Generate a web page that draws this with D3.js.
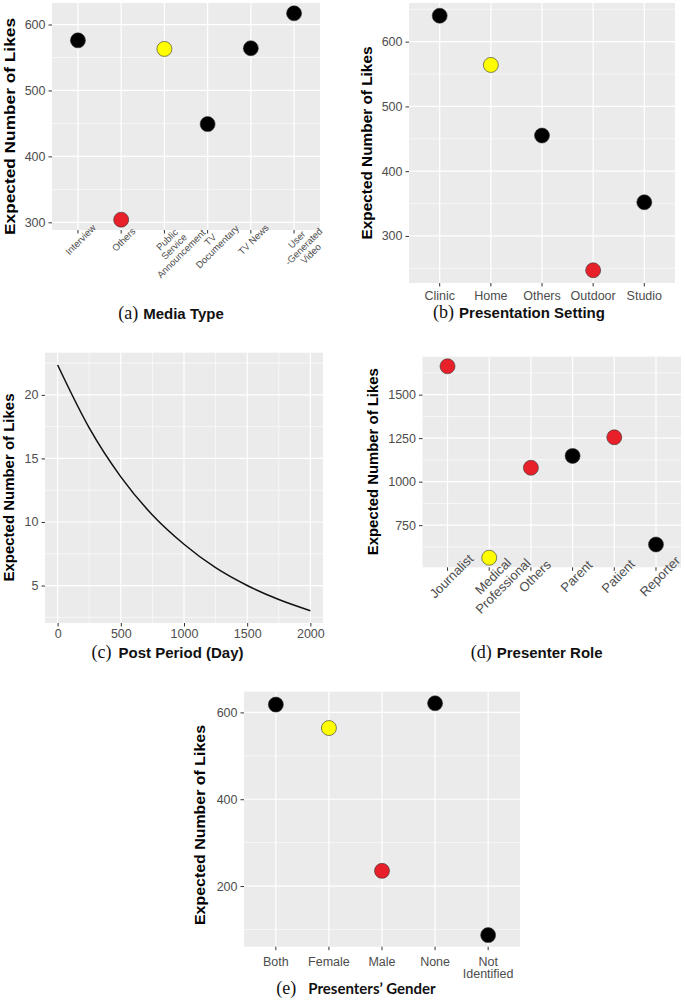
<!DOCTYPE html>
<html><head><meta charset="utf-8">
<script src="https://cdn.jsdelivr.net/npm/d3@7"></script>
<style>
html,body{margin:0;padding:0;background:#fff;}
svg{display:block;}
</style></head>
<body>
<svg id="chart" width="685" height="1003"></svg>
<script>
// ---------- DATA ----------
// status: "ref" = reference category, "sig" = significant, "ns" = not significant
const mediaTypes = ["Interview", "Others", "Public\nService\nAnnouncement", "TV\nDocumentary", "TV News", "User\n-Generated\nVideo"];
const mediaLikes = [576, 304, 563, 449, 564, 617];
const mediaStatus = ["ns", "sig", "ref", "ns", "ns", "ns"];
const mediaTicks = [300, 400, 500, 600];

const settingTypes = ["Clinic", "Home", "Others", "Outdoor", "Studio"];
const settingLikes = [640, 564, 455, 247, 352];
const settingStatus = ["ns", "ref", "ns", "sig", "ns"];
const settingTicks = [300, 400, 500, 600];

const postDays = [0, 250, 500, 750, 1000, 1250, 1500, 1750, 2000];
const postLikes = [22.35, 17.4, 13.55, 10.55, 8.25, 6.4, 5.0, 3.9, 3.02];
const postXTicks = [0, 500, 1000, 1500, 2000];
const postYTicks = [5, 10, 15, 20];

const roleTypes = ["Journalist", "Medical\nProfessional", "Others", "Parent", "Patient", "Reporter"];
const roleLikes = [1663, 563, 1080, 1148, 1255, 639];
const roleStatus = ["sig", "ref", "sig", "ns", "sig", "ns"];
const roleTicks = [750, 1000, 1250, 1500];

const genderTypes = ["Both", "Female", "Male", "None", "Not\nIdentified"];
const genderLikes = [618, 564, 235, 621, 87];
const genderStatus = ["ns", "ref", "sig", "ns", "ns"];
const genderTicks = [200, 400, 600];

const yTitle = "Expected Number of Likes";

// ---------- STYLE ----------
const statusColor = {ns: "#000000", sig: "#e8202a", ref: "#ffff00"};
const PANEL_BG = "#ebebeb";
const TICK_COL = "#4d4d4d";
const SANS = "'Liberation Sans', Arial, sans-serif";
const fmt = d3.format("d");

const svg = d3.select("#chart");

function expand(vals) {
  const lo = d3.min(vals), hi = d3.max(vals), r = hi - lo;
  return [lo - 0.05 * r, hi + 0.05 * r];
}

function minorBetween(ticks, domain) {
  const step = ticks[1] - ticks[0];
  const out = [];
  for (let v = ticks[0] - step / 2; v <= domain[1]; v += step) {
    if (v >= domain[0] && v <= domain[1]) out.push(v);
  }
  return out;
}

function drawYTitle(cx, cy, len) {
  svg.append("text")
    .attr("transform", `translate(${cx},${cy}) rotate(-90)`)
    .attr("text-anchor", "middle")
    .attr("dominant-baseline", "central")
    .attr("font-family", SANS).attr("font-weight", "bold").attr("font-size", 14)
    .attr("textLength", len).attr("lengthAdjust", "spacingAndGlyphs")
    .attr("fill", "#000")
    .text(yTitle);
}

function drawCaption(cx, baseline, letter, label, labelFont, gap) {
  const t = svg.append("text").attr("x", cx).attr("y", baseline).attr("text-anchor", "middle");
  t.append("tspan").attr("font-family", "'Liberation Serif', 'Times New Roman', serif")
    .attr("font-size", 18).attr("fill", "#111").text(letter);
  t.append("tspan").attr("font-family", labelFont || SANS).attr("font-weight", "bold")
    .attr("font-size", 15).attr("fill", "#111").attr("dx", gap || 5).text(label);
}

function yAxis(g, y, ticks, x0) {
  const ax = d3.axisLeft(y).tickValues(ticks).tickFormat(fmt).tickSize(3.5).tickPadding(3);
  const a = g.append("g").attr("transform", `translate(${x0},0)`).call(ax);
  a.select(".domain").remove();
  a.selectAll(".tick line").attr("stroke", "#333").attr("stroke-width", 1);
  a.selectAll(".tick text").attr("fill", TICK_COL).attr("font-size", 12.5).attr("font-family", SANS);
}

function catPanel(o) {
  const g = svg.append("g");
  const x = d3.scalePoint().domain(o.cats).range([o.x0, o.x1]).padding(0.6);
  const dom = expand(o.vals);
  const y = d3.scaleLinear().domain(dom).range([o.y1, o.y0]);
  g.append("rect").attr("x", o.x0).attr("y", o.y0).attr("width", o.x1 - o.x0).attr("height", o.y1 - o.y0).attr("fill", PANEL_BG);
  g.selectAll(".ymin").data(minorBetween(o.ticks, dom)).join("line")
    .attr("x1", o.x0).attr("x2", o.x1).attr("y1", d => y(d)).attr("y2", d => y(d))
    .attr("stroke", "#fff").attr("stroke-width", 0.6);
  g.selectAll(".ymaj").data(o.ticks).join("line")
    .attr("x1", o.x0).attr("x2", o.x1).attr("y1", d => y(d)).attr("y2", d => y(d))
    .attr("stroke", "#fff").attr("stroke-width", 1.2);
  g.selectAll(".xmaj").data(o.cats).join("line")
    .attr("x1", d => x(d)).attr("x2", d => x(d)).attr("y1", o.y0).attr("y2", o.y1)
    .attr("stroke", "#fff").attr("stroke-width", 1.2);
  g.selectAll(".xt").data(o.cats).join("line")
    .attr("x1", d => x(d)).attr("x2", d => x(d)).attr("y1", o.y1).attr("y2", o.y1 + 3.5)
    .attr("stroke", "#333").attr("stroke-width", 1);
  yAxis(g, y, o.ticks, o.x0);
  o.cats.forEach(c => {
    const lines = c.split("\n");
    let t;
    if (o.rotate) {
      t = g.append("text")
        .attr("transform", `translate(${x(c)},${o.y1 + o.labOff}) rotate(-45)`)
        .attr("text-anchor", "middle");
      lines.forEach((l, i) => t.append("tspan").attr("x", 0).attr("y", o.firstBase + i * o.lineH).text(l));
    } else {
      t = g.append("text").attr("text-anchor", "middle");
      lines.forEach((l, i) => t.append("tspan").attr("x", x(c)).attr("y", o.y1 + o.firstBase + i * o.lineH).text(l));
    }
    t.attr("font-family", SANS).attr("font-size", o.labSize).attr("fill", TICK_COL);
  });
  g.selectAll(".pt").data(o.cats.map((c, i) => ({c, v: o.vals[i], s: o.status[i]}))).join("circle")
    .attr("cx", d => x(d.c)).attr("cy", d => y(d.v)).attr("r", 7.5)
    .attr("fill", d => statusColor[d.s]).attr("stroke", "#333").attr("stroke-width", 0.6);
}

// (a) Media Type
catPanel({x0: 52, x1: 320, y0: 3, y1: 230, cats: mediaTypes, vals: mediaLikes, status: mediaStatus,
  ticks: mediaTicks, rotate: true, labOff: 7, firstBase: 7, lineH: 10, labSize: 9.5});
drawYTitle(10, 126.5, 217);
drawCaption(171, 319, "(a)", "Media Type");

// (b) Presentation Setting
catPanel({x0: 409, x1: 675, y0: 3, y1: 283, cats: settingTypes, vals: settingLikes, status: settingStatus,
  ticks: settingTicks, rotate: false, firstBase: 17, lineH: 13, labSize: 12.5});
drawYTitle(367, 143, 193);
drawCaption(519, 318, "(b)", "Presentation Setting");

// (c) Post Period
(function () {
  const x0 = 45, x1 = 323, y0 = 352.7, y1 = 623;
  const g = svg.append("g");
  const xd = expand(postDays), yd = expand(postLikes);
  const x = d3.scaleLinear().domain(xd).range([x0, x1]);
  const y = d3.scaleLinear().domain(yd).range([y1, y0]);
  g.append("rect").attr("x", x0).attr("y", y0).attr("width", x1 - x0).attr("height", y1 - y0).attr("fill", PANEL_BG);
  g.selectAll(".ymin").data(minorBetween(postYTicks, yd)).join("line")
    .attr("x1", x0).attr("x2", x1).attr("y1", d => y(d)).attr("y2", d => y(d)).attr("stroke", "#fff").attr("stroke-width", 0.6);
  g.selectAll(".xmin").data(minorBetween(postXTicks, xd)).join("line")
    .attr("x1", d => x(d)).attr("x2", d => x(d)).attr("y1", y0).attr("y2", y1).attr("stroke", "#fff").attr("stroke-width", 0.6);
  g.selectAll(".ymaj").data(postYTicks).join("line")
    .attr("x1", x0).attr("x2", x1).attr("y1", d => y(d)).attr("y2", d => y(d)).attr("stroke", "#fff").attr("stroke-width", 1.2);
  g.selectAll(".xmaj").data(postXTicks).join("line")
    .attr("x1", d => x(d)).attr("x2", d => x(d)).attr("y1", y0).attr("y2", y1).attr("stroke", "#fff").attr("stroke-width", 1.2);
  yAxis(g, y, postYTicks, x0);
  const ax = d3.axisBottom(x).tickValues(postXTicks).tickFormat(fmt).tickSize(3.5).tickPadding(3);
  const a = g.append("g").attr("transform", `translate(0,${y1})`).call(ax);
  a.select(".domain").remove();
  a.selectAll(".tick line").attr("stroke", "#333");
  a.selectAll(".tick text").attr("fill", TICK_COL).attr("font-size", 12.5).attr("font-family", SANS);
  const line = d3.line().x((d, i) => x(postDays[i])).y(d => y(d)).curve(d3.curveMonotoneX);
  g.append("path").attr("d", line(postLikes)).attr("fill", "none").attr("stroke", "#111").attr("stroke-width", 1.5);
})();
drawYTitle(9, 487.5, 188);
drawCaption(167.5, 658, "(c)", "Post Period (Day)", null, 7);

// (d) Presenter Role
catPanel({x0: 422.5, x1: 681, y0: 356.7, y1: 567.3, cats: roleTypes, vals: roleLikes, status: roleStatus,
  ticks: roleTicks, rotate: true, labOff: 5, firstBase: 10, lineH: 14, labSize: 13});
drawYTitle(373.3, 461.7, 187);
drawCaption(536.7, 658, "(d)", "Presenter Role");

// (e) Presenters' Gender
catPanel({x0: 244, x1: 520, y0: 691.7, y1: 946.7, cats: genderTypes, vals: genderLikes, status: genderStatus,
  ticks: genderTicks, rotate: false, firstBase: 19, lineH: 12.5, labSize: 12.5});
drawYTitle(200, 825, 200);
drawCaption(356, 994, "(e)", "Presenters\u2019 Gender", "Lato, 'Open Sans', sans-serif", 12);
</script>
</body></html>
